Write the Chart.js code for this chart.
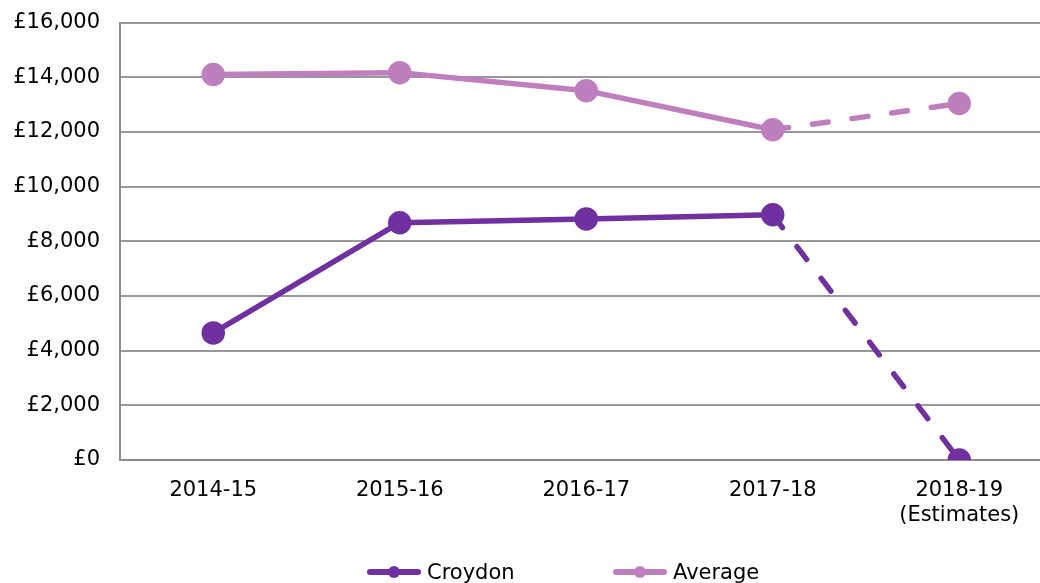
<!DOCTYPE html>
<html>
<head>
<meta charset="utf-8">
<script src="https://cdn.jsdelivr.net/npm/chart.js@4/dist/chart.umd.min.js"></script>
<style>
  html, body { margin: 0; padding: 0; background: #fff; overflow: hidden; width: 1040px; height: 583px; }
  #wrap { position: absolute; left: 0; top: -10px; width: 1067px; height: 593px; }
  .leg { position: absolute; top: 558px; height: 28px; font-family: "DejaVu Sans", Verdana, sans-serif; font-size: 21px; color: #000; white-space: nowrap; }
  .leg .ln { position: absolute; left: 0; top: 11px; width: 54px; height: 6px; border-radius: 3px; }
  .leg .dt { position: absolute; left: 21px; top: 8px; width: 12px; height: 12px; border-radius: 6px; }
  .leg .tx { position: absolute; left: 60px; top: 0px; line-height: 28px; }
</style>
</head>
<body>
<div id="wrap"><canvas id="c" width="1067" height="593"></canvas></div>
<div class="leg" style="left:367px"><div class="ln" style="background:#7030A0"></div><div class="dt" style="background:#7030A0"></div><span class="tx">Croydon</span></div>
<div class="leg" style="left:613px"><div class="ln" style="background:#BF7FBE"></div><div class="dt" style="background:#BF7FBE"></div><span class="tx">Average</span></div>
<script>
const categories = [["2014-15"], ["2015-16"], ["2016-17"], ["2017-18"], ["2018-19", "(Estimates)"]];
const croydon = [4650, 8680, 8820, 8970, 0];
const average = [14100, 14170, 13510, 12080, 13040];
const seriesNames = ["Croydon", "Average"];
const yTicks = [0, 2000, 4000, 6000, 8000, 10000, 12000, 14000, 16000];

const FONT = { family: '"DejaVu Sans", Verdana, sans-serif', size: 21 };
const dashLast = ctx => ctx.p1DataIndex === categories.length - 1 ? [16, 24] : undefined;

function ds(label, data, color) {
  return {
    label, data,
    borderColor: color, backgroundColor: color,
    pointBackgroundColor: color, pointBorderColor: color,
    borderWidth: 5.5, pointRadius: 9, pointHoverRadius: 9,
    borderCapStyle: 'round', borderJoinStyle: 'round',
    tension: 0,
    segment: { borderDash: dashLast }
  };
}

new Chart(document.getElementById('c'), {
  type: 'line',
  data: {
    labels: categories,
    datasets: [ds(seriesNames[1], average, '#BF7FBE'), ds(seriesNames[0], croydon, '#7030A0')]
  },
  options: {
    responsive: false,
    animation: false,
    layout: { padding: { top: 13, left: 0, right: 0, bottom: 0 } },
    plugins: { legend: { display: false }, tooltip: { enabled: false } },
    scales: {
      x: {
        offset: true,
        grid: { display: false, drawTicks: false },
        border: { display: true, color: '#8c8c8c', width: 2 },
        ticks: { color: '#000', font: FONT, padding: 18, maxRotation: 0, autoSkip: false },
        afterFit: s => { s.height = 123; }
      },
      y: {
        min: 0, max: 16000,
        afterBuildTicks: s => { s.ticks = yTicks.map(v => ({ value: v })); },
        grid: { color: '#999999', lineWidth: 2, drawTicks: false },
        border: { display: true, color: '#8c8c8c', width: 2 },
        ticks: {
          color: '#000', font: FONT, padding: 20,
          callback: v => '£' + Number(v).toLocaleString('en-GB')
        },
        afterFit: s => { s.width = 120; }
      }
    }
  }
});
</script>
</body>
</html>
